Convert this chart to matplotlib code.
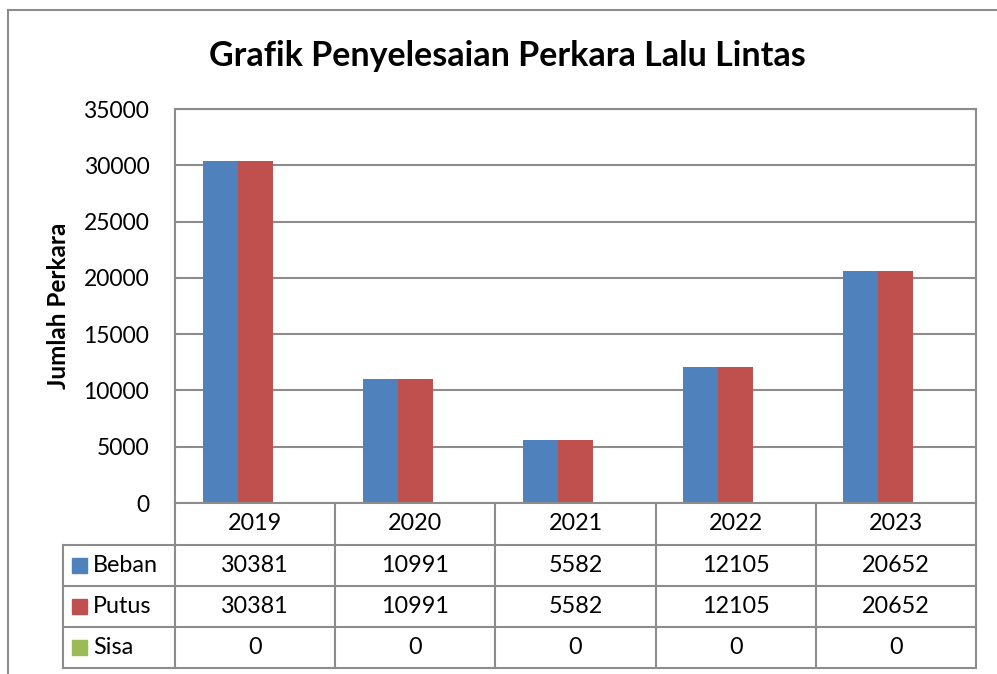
import matplotlib
matplotlib.use("Agg")
import matplotlib.pyplot as plt
from matplotlib.lines import Line2D
from matplotlib.patches import Rectangle

years = ["2019", "2020", "2021", "2022", "2023"]
series_names = ["Beban", "Putus", "Sisa"]
beban = [30381, 10991, 5582, 12105, 20652]
putus = [30381, 10991, 5582, 12105, 20652]
sisa = [0, 0, 0, 0, 0]
series_colors = ["#4F81BD", "#C0504D", "#9BBB59"]

W, H = 997, 674
GRID = "#8C8C8C"
FONT = "Lato"
plt.rcParams["font.family"] = [FONT, "DejaVu Sans"]

fig = plt.figure(figsize=(W / 100, H / 100), dpi=100)


def fx(px):
    return px / W


def fy(py):
    return 1 - py / H


# plot area in pixel coords of the reference
left, right, top, bottom = 175, 976, 109, 503
ax = fig.add_axes([fx(left), fy(bottom), fx(right - left), (bottom - top) / H])

values = [beban, putus, sisa]
n = len(years)
bar_w = 35 / ((right - left) / n)
for s, (vals, col) in enumerate(zip(values, series_colors)):
    xs = [i + (s - 1) * bar_w for i in range(n)]
    ax.bar(xs, vals, width=bar_w, color=col, zorder=3, linewidth=0)

ax.set_xlim(-0.5, n - 0.5)
ax.set_ylim(0, 35000)
ax.set_yticks(range(0, 35001, 5000))
ax.set_yticklabels([str(v) for v in range(0, 35001, 5000)], fontsize=16.5)
ax.tick_params(axis="y", length=0, pad=18.5)
ax.set_xticks([])
ax.grid(axis="y", color=GRID, linewidth=1.5, zorder=0)
for sp in ax.spines.values():
    sp.set_color(GRID)
    sp.set_linewidth(1.5)
ax.spines["bottom"].set_visible(False)
ax.set_ylabel("Jumlah Perkara", fontsize=17.5, fontweight="bold")
ax.yaxis.set_label_coords((70 - left) / (right - left), 0.5)

fig.text(fx(507), fy(56), "Grafik Penyelesaian Perkara Lalu Lintas",
         fontsize=24.5, fontweight="bold", ha="center", va="center")

# outer chart border (left and top visible)
fig.add_artist(Line2D([fx(8), fx(8)], [fy(10), fy(H + 5)], color=GRID, lw=1.5))
fig.add_artist(Line2D([fx(8), fx(W + 5)], [fy(10), fy(10)], color=GRID, lw=1.5))

# data table
row_y = [503, 545, 586, 627, 668]
col_w = (right - left) / n
col_x = [left + i * col_w for i in range(n + 1)]
tleft = 63
TFS = 16.8


def hline(x0, x1, y):
    fig.add_artist(Line2D([fx(x0), fx(x1)], [fy(y), fy(y)], color=GRID, lw=1.5))


def vline(x, y0, y1):
    fig.add_artist(Line2D([fx(x), fx(x)], [fy(y0), fy(y1)], color=GRID, lw=1.5))


hline(left, right, row_y[0])
for y in row_y[1:]:
    hline(tleft, right, y)
vline(tleft, row_y[1], row_y[-1])
for x in col_x:
    vline(x, row_y[0], row_y[-1])

for i, yr in enumerate(years):
    cx = (col_x[i] + col_x[i + 1]) / 2
    fig.text(fx(cx), fy((row_y[0] + row_y[1]) / 2), yr, fontsize=TFS,
             ha="center", va="center")
    for r, vals in enumerate(values):
        cy = (row_y[r + 1] + row_y[r + 2]) / 2
        fig.text(fx(cx), fy(cy), str(vals[i]), fontsize=TFS,
                 ha="center", va="center")

for r, (name, col) in enumerate(zip(series_names, series_colors)):
    cy = (row_y[r + 1] + row_y[r + 2]) / 2
    fig.add_artist(Rectangle((fx(72), fy(cy + 7)), fx(15), 15 / H,
                             color=col, transform=fig.transFigure))
    fig.text(fx(93), fy(cy), name, fontsize=TFS, ha="left", va="center")

fig.savefig("out.png", dpi=100)
